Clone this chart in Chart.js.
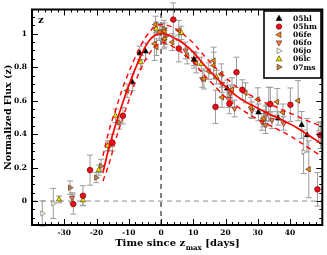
<!DOCTYPE html>
<html>
<head>
<meta charset="utf-8">
<script src="https://cdn.jsdelivr.net/npm/chart.js@4/dist/chart.umd.min.js"></script>
<style>
  html, body { margin: 0; padding: 0; background: #fff; }
  #wrap { width: 327px; height: 255px; }
</style>
</head>
<body>
<div id="wrap"><canvas id="myChart" width="327" height="255"></canvas></div>
<script>
// days since z-band maximum, normalized flux, error
var sn05hlT = [-8.9, -6.6, -4.8, 10.2, 20.5, 30.2, 36.3, 43.6, 45.3];
var sn05hlF = [0.71, 0.885, 0.895, 0.845, 0.673, 0.53, 0.494, 0.455, 0.394];
var sn05hlE = [0.05, 0.04, 0.05, 0.05, 0.05, 0.05, 0.04, 0.08, 0.1];

var sn05hmT = [-27.2, -24.2, -22.0, -15.1, -11.8, 3.8, 5.5, 16.9, 21.2, 23.4, 25.2, 33.9, 40.1, 48.5, 49.4];
var sn05hmF = [-0.018, 0.032, 0.185, 0.35, 0.51, 1.085, 0.912, 0.563, 0.582, 0.77, 0.665, 0.58, 0.576, 0.07, 0.394];
var sn05hmE = [0.06, 0.06, 0.09, 0.05, 0.05, 0.1, 0.08, 0.1, 0.06, 0.09, 0.06, 0.1, 0.1, 0.1, 0.08];

var sn06feT = [-10.5, -2.0, -1.7, -1.4, -0.4, 1.1, 1.1, 3.5, 5.5, 8.1, 10.9, 13.3, 14.8, 16.3, 16.3, 18.7, 18.9, 22.0, 26.2, 27.9, 30.0, 31.8, 33.4, 36.0, 37.8, 42.5, 45.8];
var sn06feF = [0.66, 0.94, 1.055, 0.92, 1.01, 1.015, 0.97, 0.95, 1.02, 0.87, 0.826, 0.73, 0.776, 0.84, 0.81, 0.76, 0.62, 0.667, 0.647, 0.56, 0.607, 0.494, 0.58, 0.593, 0.53, 0.6, 0.19];
var sn06feE = [0.04, 0.1, 0.05, 0.05, 0.05, 0.05, 0.05, 0.05, 0.06, 0.05, 0.06, 0.06, 0.05, 0.08, 0.08, 0.06, 0.06, 0.07, 0.06, 0.06, 0.07, 0.05, 0.1, 0.08, 0.05, 0.12, 0.17];

var sn06foT = [-27.6, 0.0, 0.9, 7.6, 10.2, 12.8, 18.9, 21.0, 21.5, 22.8, 28.2, 31.3, 32.4, 32.7, 34.4, 38.0];
var sn06foF = [0.02, 1.01, 0.96, 0.9, 0.85, 0.73, 0.70, 0.61, 0.643, 0.553, 0.543, 0.473, 0.454, 0.524, 0.484, 0.464];
var sn06foE = [0.03, 0.05, 0.05, 0.05, 0.04, 0.05, 0.05, 0.05, 0.05, 0.05, 0.05, 0.05, 0.05, 0.05, 0.05, 0.04];

var sn06joT = [-36.8, -33.4, 32.4, 44.2, 48.9];
var sn06joF = [-0.074, -0.014, 0.507, 0.294, 0.41];
var sn06joE = [0.075, 0.09, 0.06, 0.13, 0.06];

var sn06lcT = [-31.6, -24.2, -19.3, -16.5, -14.1, -6.3, -1.5, 6.3, 12.5, 17.2];
var sn06lcF = [0.01, 0.005, 0.185, 0.33, 0.51, 0.83, 1.03, 1.005, 0.82, 0.74];
var sn06lcE = [0.02, 0.03, 0.03, 0.03, 0.04, 0.04, 0.04, 0.04, 0.04, 0.04];

var sn07msT = [-28.2, -20.1, -18.6, -16.0, -13.0, 0.9, 1.4];
var sn07msF = [0.08, 0.14, 0.21, 0.33, 0.47, 1.03, 0.985];
var sn07msE = [0.04, 0.03, 0.04, 0.03, 0.04, 0.05, 0.05];

// template fit and its envelope
var modelT = [-18, -16, -14, -12, -10, -8, -6, -4, -2, 0, 2, 4, 6, 8, 10, 12, 14, 16, 18, 20, 22, 24, 26, 28, 30, 32, 34, 36, 38, 40, 42, 44, 46, 48, 50];
var modelF = [0.17, 0.33, 0.46, 0.58, 0.69, 0.79, 0.88, 0.95, 0.99, 1.0, 0.995, 0.975, 0.955, 0.925, 0.89, 0.845, 0.80, 0.76, 0.72, 0.685, 0.65, 0.62, 0.595, 0.575, 0.555, 0.535, 0.515, 0.50, 0.48, 0.46, 0.44, 0.415, 0.39, 0.365, 0.34];
var upperF = [0.27, 0.43, 0.55, 0.67, 0.77, 0.86, 0.94, 1.0, 1.04, 1.055, 1.05, 1.035, 1.01, 0.98, 0.945, 0.90, 0.855, 0.815, 0.775, 0.74, 0.705, 0.675, 0.65, 0.63, 0.61, 0.59, 0.575, 0.56, 0.54, 0.525, 0.51, 0.49, 0.475, 0.46, 0.45];
var lowerF = [0.12, 0.23, 0.37, 0.49, 0.60, 0.71, 0.80, 0.87, 0.92, 0.945, 0.94, 0.92, 0.895, 0.865, 0.83, 0.785, 0.74, 0.70, 0.66, 0.62, 0.59, 0.56, 0.535, 0.51, 0.49, 0.47, 0.45, 0.43, 0.41, 0.39, 0.365, 0.34, 0.315, 0.29, 0.265];

var xTicks = [-30, -20, -10, 0, 10, 20, 30, 40];
var yTicks = [0, 0.2, 0.4, 0.6, 0.8, 1];

var serif = "'DejaVu Serif', serif";

function pts(t, f, e) {
  return t.map(function (v, i) { return { x: v, y: f[i], e: e ? e[i] : 0 }; });
}

var snSets = [
  { label: '05hl', t: sn05hlT, f: sn05hlF, e: sn05hlE, style: 'triangle', rot: 0, fill: '#000000', edge: '#000000' },
  { label: '05hm', t: sn05hmT, f: sn05hmF, e: sn05hmE, style: 'circle', rot: 0, fill: '#e8101a', edge: '#7a0000' },
  { label: '06fe', t: sn06feT, f: sn06feF, e: sn06feE, style: 'triangle', rot: 270, fill: '#f08a1c', edge: '#5a3210' },
  { label: '06fo', t: sn06foT, f: sn06foF, e: sn06foE, style: 'triangle', rot: 180, fill: '#f27a4e', edge: '#6a3020' },
  { label: '06jo', t: sn06joT, f: sn06joF, e: sn06joE, style: 'triangle', rot: 90, fill: '#f8f3e4', edge: '#7a7a7a' },
  { label: '06lc', t: sn06lcT, f: sn06lcF, e: sn06lcE, style: 'triangle', rot: 0, fill: '#f2e400', edge: '#555000' },
  { label: '07ms', t: sn07msT, f: sn07msF, e: sn07msE, style: 'triangle', rot: 90, fill: '#c8864a', edge: '#5a3a20' }
];

var datasets = [
  { type: 'line', data: pts(modelT, modelF), borderColor: '#ff0000', borderWidth: 1.7, pointRadius: 0, showLine: true, tension: 0.4, order: 0 },
  { type: 'line', data: pts(modelT, upperF), borderColor: '#ff0000', borderWidth: 1.4, borderDash: [5, 4], pointRadius: 0, showLine: true, tension: 0.4, order: 0 },
  { type: 'line', data: pts(modelT, lowerF), borderColor: '#ff0000', borderWidth: 1.4, borderDash: [5, 4], pointRadius: 0, showLine: true, tension: 0.4, order: 0 }
];
snSets.forEach(function (s) {
  datasets.push({
    label: s.label,
    data: pts(s.t, s.f, s.e),
    pointStyle: s.style,
    pointRotation: s.rot,
    pointRadius: s.style === 'circle' ? 2.8 : 3.1,
    pointBackgroundColor: s.fill,
    pointBorderColor: s.edge,
    pointBorderWidth: 0.7,
    showLine: false,
    errorBars: true,
    order: 1
  });
});

function drawMarker(ctx, s, x, y, r) {
  ctx.save();
  ctx.translate(x, y);
  ctx.rotate(s.rot * Math.PI / 180);
  ctx.beginPath();
  if (s.style === 'circle') {
    ctx.arc(0, 0, r * 0.85, 0, Math.PI * 2);
  } else {
    ctx.moveTo(0, -r);
    ctx.lineTo(r * 0.9, r * 0.6);
    ctx.lineTo(-r * 0.9, r * 0.6);
    ctx.closePath();
  }
  ctx.fillStyle = s.fill;
  ctx.fill();
  ctx.lineWidth = 0.7;
  ctx.strokeStyle = s.edge;
  ctx.stroke();
  ctx.restore();
}

var decor = {
  id: 'decor',
  beforeDatasetsDraw: function (chart) {
    var ctx = chart.ctx, a = chart.chartArea;
    var xs = chart.scales.x, ys = chart.scales.y;
    ctx.save();
    // zero lines
    ctx.setLineDash([5, 4]);
    ctx.lineWidth = 1;
    ctx.strokeStyle = '#8a8a8a';
    ctx.beginPath();
    ctx.moveTo(a.left, ys.getPixelForValue(0));
    ctx.lineTo(a.right, ys.getPixelForValue(0));
    ctx.stroke();
    ctx.strokeStyle = '#000';
    ctx.beginPath();
    ctx.moveTo(xs.getPixelForValue(0), a.bottom);
    ctx.lineTo(xs.getPixelForValue(0), a.top);
    ctx.stroke();
    ctx.setLineDash([]);
    // error bars
    ctx.strokeStyle = '#9c9c9c';
    ctx.lineWidth = 1;
    chart.data.datasets.forEach(function (ds) {
      if (!ds.errorBars) return;
      ds.data.forEach(function (p) {
        var px = xs.getPixelForValue(p.x);
        var y1 = ys.getPixelForValue(p.y - p.e), y2 = ys.getPixelForValue(p.y + p.e);
        ctx.beginPath();
        ctx.moveTo(px, y1); ctx.lineTo(px, y2);
        ctx.moveTo(px - 3, y1); ctx.lineTo(px + 3, y1);
        ctx.moveTo(px - 3, y2); ctx.lineTo(px + 3, y2);
        ctx.stroke();
      });
    });
    ctx.restore();
  },
  afterDraw: function (chart) {
    var ctx = chart.ctx, a = chart.chartArea;
    var xs = chart.scales.x, ys = chart.scales.y;
    var v, p;
    ctx.save();
    ctx.strokeStyle = '#000';
    ctx.lineWidth = 1;
    ctx.beginPath();
    for (v = -40; v <= 50; v += 2) {
      p = Math.round(xs.getPixelForValue(v)) + 0.5;
      var len = (v % 10 === 0) ? 6 : 3;
      ctx.moveTo(p, a.bottom); ctx.lineTo(p, a.bottom - len);
      ctx.moveTo(p, a.top); ctx.lineTo(p, a.top + len);
    }
    for (var k = -2; k <= 22; k++) {
      v = k * 0.05;
      p = Math.round(ys.getPixelForValue(v)) + 0.5;
      var ylen = (k % 4 === 0) ? 6 : 3;
      ctx.moveTo(a.left, p); ctx.lineTo(a.left + ylen, p);
      ctx.moveTo(a.right, p); ctx.lineTo(a.right - ylen, p);
    }
    ctx.stroke();
    // frame
    ctx.lineWidth = 2;
    ctx.strokeRect(a.left, a.top, a.right - a.left, a.bottom - a.top);

    // band label
    ctx.fillStyle = '#000';
    ctx.font = 'bold 10px ' + serif;
    ctx.textBaseline = 'middle';
    ctx.textAlign = 'left';
    ctx.fillText('z', a.left + 6, a.top + 11);

    // y title
    ctx.save();
    ctx.translate(9, (a.top + a.bottom) / 2);
    ctx.rotate(-Math.PI / 2);
    ctx.textAlign = 'center';
    ctx.font = 'bold 9.5px ' + serif;
    ctx.fillText('Normalized Flux (z)', 0, 0);
    ctx.restore();

    // x title with subscript
    var main1 = 'Time since z', sub = 'max', main2 = ' [days]';
    ctx.font = 'bold 10px ' + serif;
    var w1 = ctx.measureText(main1).width, w3 = ctx.measureText(main2).width;
    ctx.font = 'bold 7px ' + serif;
    var w2 = ctx.measureText(sub).width;
    var x0 = (a.left + a.right) / 2 - (w1 + w2 + w3) / 2;
    ctx.textBaseline = 'alphabetic';
    ctx.font = 'bold 10px ' + serif;
    ctx.fillText(main1, x0, 246);
    ctx.font = 'bold 7px ' + serif;
    ctx.fillText(sub, x0 + w1 + 0.5, 250);
    ctx.font = 'bold 10px ' + serif;
    ctx.fillText(main2, x0 + w1 + w2 + 0.5, 246);

    // legend box
    var bx = 264, by = 11, bw = 57, bh = 67;
    ctx.fillStyle = '#fff';
    ctx.fillRect(bx, by, bw, bh);
    ctx.lineWidth = 1.6;
    ctx.strokeStyle = '#000';
    ctx.strokeRect(bx, by, bw, bh);
    ctx.font = 'bold 7.5px ' + serif;
    ctx.textBaseline = 'middle';
    snSets.forEach(function (s, i) {
      var ry = by + 7.5 + i * 8.1;
      drawMarker(ctx, s, bx + 15, ry, 3.2);
      ctx.fillStyle = '#000';
      ctx.fillText(s.label, bx + 29, ry + 0.5);
    });
    ctx.restore();
  }
};

var ctx = document.getElementById('myChart').getContext('2d');
var myChart = new Chart(ctx, {
  type: 'scatter',
  data: { datasets: datasets },
  options: {
    responsive: false,
    animation: false,
    events: [],
    layout: { padding: { left: 0, right: 4, top: 9, bottom: 0 } },
    plugins: { legend: { display: false }, tooltip: { enabled: false } },
    scales: {
      x: {
        type: 'linear',
        min: -40,
        max: 50,
        afterFit: function (s) { s.height = 30; },
        grid: { display: false, drawTicks: false },
        border: { display: false },
        afterBuildTicks: function (s) { s.ticks = xTicks.map(function (v) { return { value: v }; }); },
        ticks: {
          padding: 4,
          color: '#000',
          font: { family: serif, size: 7.5, weight: 'bold' },
          maxRotation: 0,
          autoSkip: false
        }
      },
      y: {
        type: 'linear',
        min: -0.143,
        max: 1.145,
        afterFit: function (s) { s.width = 32; },
        grid: { display: false, drawTicks: false },
        border: { display: false },
        afterBuildTicks: function (s) { s.ticks = yTicks.map(function (v) { return { value: v }; }); },
        ticks: {
          padding: 5,
          color: '#000',
          font: { family: serif, size: 7.5, weight: 'bold' },
          autoSkip: false,
          callback: function (v) { return String(Math.round(v * 10) / 10); }
        }
      }
    }
  },
  plugins: [decor]
});
</script>
</body>
</html>
